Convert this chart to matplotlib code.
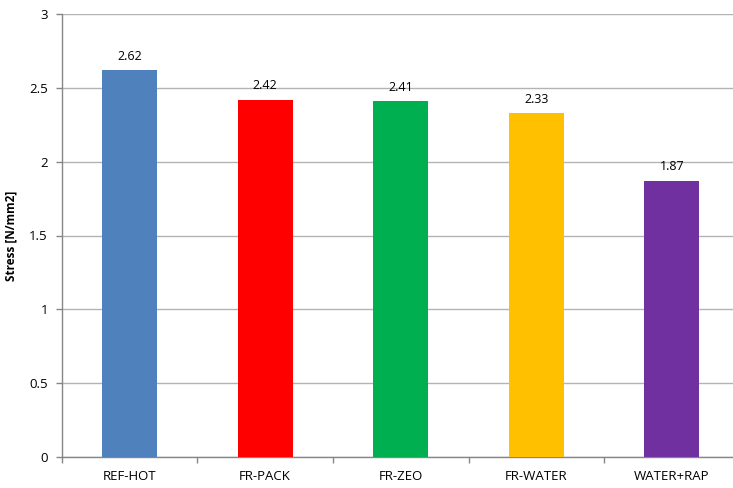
import matplotlib.pyplot as plt
import numpy as np

categories = ["REF-HOT", "FR-PACK", "FR-ZEO", "FR-WATER", "WATER+RAP"]
values = [2.62, 2.42, 2.41, 2.33, 1.87]
colors = ["#4F81BD", "#FF0000", "#00B050", "#FFC000", "#7030A0"]
yticks = [0, 0.5, 1, 1.5, 2, 2.5, 3]
ytick_labels = ["0", "0.5", "1", "1.5", "2", "2.5", "3"]

plt.rcParams['font.family'] = ['Open Sans', 'DejaVu Sans']

fig = plt.figure(figsize=(7.33, 4.88), dpi=100)
ax = fig.add_axes([61.7 / 733, 31 / 488, 678 / 733, 443 / 488])

x = np.arange(len(categories))
ax.bar(x, values, width=0.405, color=colors, zorder=3)
for xi, v in zip(x, values):
    ax.text(xi, v + 0.05, f"{v:.2f}", ha='center', va='bottom', fontsize=9)

ax.set_xlim(-0.5, len(categories) - 0.5)
ax.set_ylim(0, 3)
ax.set_yticks(yticks)
ax.set_yticklabels(ytick_labels, fontsize=9.5)
ax.yaxis.grid(True, color="#B3B3B3", linewidth=1, zorder=0)

ax.set_xticks(x)
ax.set_xticklabels(categories, fontsize=9.5)
ax.tick_params(axis='x', which='major', length=0, pad=9)
ax.set_xticks(np.arange(len(categories) + 1) - 0.5, minor=True)
ax.tick_params(axis='x', which='minor', length=4, color="#868686", width=1)
ax.tick_params(axis='y', length=4, color="#868686", width=1, pad=6)

for s in ['top', 'right']:
    ax.spines[s].set_visible(False)
for s in ['left', 'bottom']:
    ax.spines[s].set_color("#868686")
    ax.spines[s].set_linewidth(1)

ax.set_ylabel("Stress [N/mm2]", fontsize=8.5, fontweight='bold', labelpad=8)

fig.savefig("out.png", dpi=100)
